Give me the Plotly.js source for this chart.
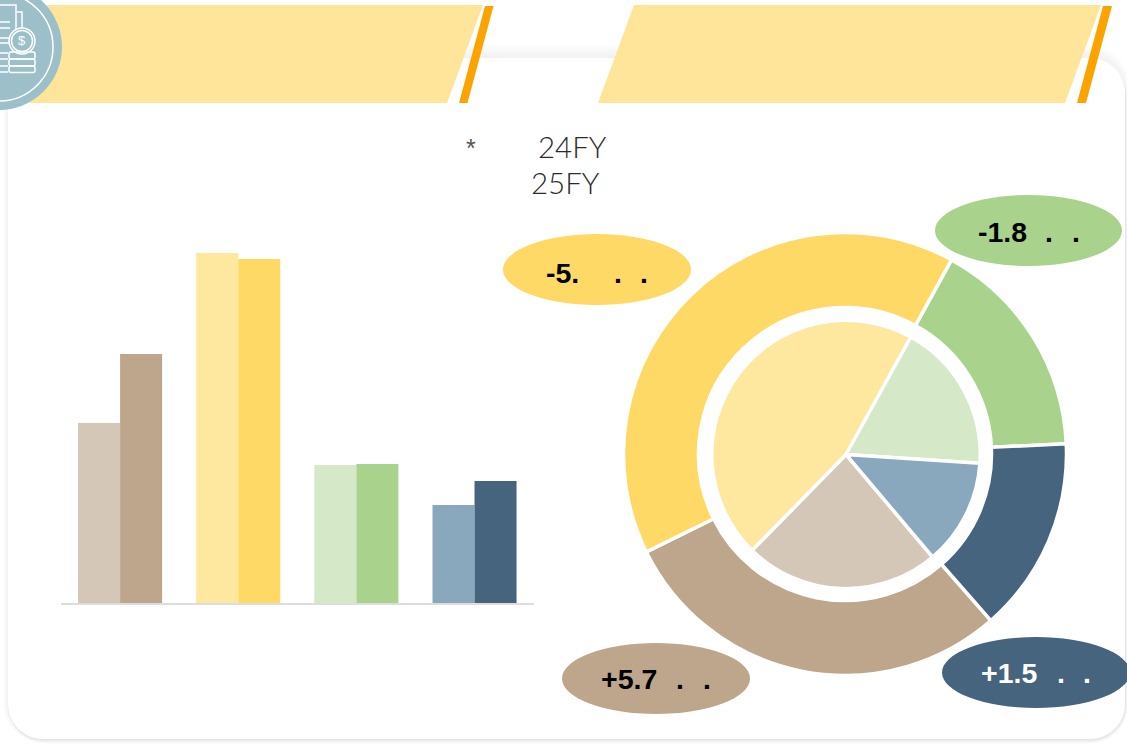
<!DOCTYPE html>
<html>
<head>
<meta charset="utf-8">
<script src="https://cdn.plot.ly/plotly-3.0.1.min.js"></script>
<style>html,body{margin:0;padding:0;background:#fff;overflow:hidden}#chart{width:1127px;height:744px}</style>
</head>
<body>
<div id="chart"></div>
<script>
// Data (arbitrary units, bar heights)
var categories = ['A', 'B', 'C', 'D'];
var fy24Values = [180, 350, 138, 98];
var fy25Values = [249, 344, 139, 122];
var fy24Colors = ['#d5c7b7', '#fee79f', '#d5e8c8', '#89a7bd'];
var fy25Colors = ['#bda68b', '#ffd966', '#a9d28d', '#46647d'];
var titleLines = ['24FY', '25FY'];
var changeLabels = ['+5.7', '-5.', '-1.8', '+1.5'];

var W = 1127, H = 744;
function X(p) { return p / W; }
function Y(p) { return 1 - p / H; }
function poly(pts) {
  return 'M' + pts.map(function (q) { return X(q[0]) + ',' + Y(q[1]); }).join(' L') + ' Z';
}
function line(pts) {
  return 'M' + pts.map(function (q) { return X(q[0]) + ',' + Y(q[1]); }).join(' L');
}
function roundRect(x0, y0, x1, y1, r) {
  var k = r * 0.45;
  function p(a, b) { return X(a) + ',' + Y(b); }
  return 'M' + p(x0 + r, y0) + ' L' + p(x1 - r, y0) +
    ' C' + p(x1 - k, y0) + ' ' + p(x1, y0 + k) + ' ' + p(x1, y0 + r) +
    ' L' + p(x1, y1 - r) +
    ' C' + p(x1, y1 - k) + ' ' + p(x1 - k, y1) + ' ' + p(x1 - r, y1) +
    ' L' + p(x0 + r, y1) +
    ' C' + p(x0 + k, y1) + ' ' + p(x0, y1 - k) + ' ' + p(x0, y1 - r) +
    ' L' + p(x0, y0 + r) +
    ' C' + p(x0, y0 + k) + ' ' + p(x0 + k, y0) + ' ' + p(x0 + r, y0) + ' Z';
}
function fillShape(path, color) {
  return { type: 'path', xref: 'paper', yref: 'paper', layer: 'below', path: path, fillcolor: color, line: { width: 0 } };
}
function strokeShape(path, w) {
  return { type: 'path', xref: 'paper', yref: 'paper', layer: 'below', path: path, fillcolor: 'rgba(0,0,0,0)', line: { color: '#fff', width: w || 1.5 } };
}
function ellipse(x0, y0, x1, y1, color, lineW) {
  return {
    type: 'circle', xref: 'paper', yref: 'paper', layer: 'below',
    x0: X(x0), x1: X(x1), y0: Y(y1), y1: Y(y0),
    fillcolor: color || 'rgba(0,0,0,0)',
    line: lineW ? { color: '#fff', width: lineW } : { width: 0 }
  };
}

var shapes = [];
// soft card shadow: a broad faint halo plus a tighter one to the lower right
for (var i = 14; i >= 1; i--) {
  shapes.push(fillShape(roundRect(8 - i * 0.4, 58 - i, 1125 + i * 0.3, 739 + i * 0.3, 35 + i * 0.3), 'rgba(0,0,0,0.003)'));
}
for (var j = 5; j >= 1; j--) {
  shapes.push(fillShape(roundRect(8, 60, 1125 + j * 0.5, 739 + j, 35 + j * 0.5), 'rgba(0,0,0,0.011)'));
}
shapes.push(fillShape(roundRect(8, 58, 1125, 739, 35), '#ffffff'));
// header banners
shapes.push(fillShape(poly([[30, 5], [483, 5], [447, 103], [30, 103]]), '#fee59a'));
shapes.push(fillShape(poly([[485, 6], [493.5, 6], [467.5, 103], [459, 103]]), '#fca300'));
shapes.push(fillShape(poly([[634, 5], [1101, 5], [1065, 103], [598, 103]]), '#fee59a'));
shapes.push(fillShape(poly([[1103, 6], [1112, 6], [1086, 103], [1077, 103]]), '#fca300'));
// icon badge
shapes.push(ellipse(-64, -16, 62, 110, '#9dbfca'));
shapes.push(ellipse(-55, -7, 53, 101, null, 1.5));
var iconLines = [
  [[-2, 5], [16, 5], [16, 29]],
  [[17, 12], [22, 12], [22, 28]],
  [[-2, 22], [10, 22]], [[-2, 28], [10, 28]],
  [[-2, 38], [9, 38]], [[-2, 43], [9, 43]],
  [[-2, 53], [8, 53]], [[-2, 59], [8, 59]], [[-2, 66], [8, 66]], [[-2, 72], [8, 72]]
];
iconLines.forEach(function (l) { shapes.push(strokeShape(line(l), 1.5)); });
shapes.push(ellipse(9, 28, 35, 54, null, 1.5));
shapes.push(ellipse(11.5, 30.5, 32.5, 51.5, null, 1.5));
shapes.push(strokeShape(roundRect(9, 52, 35, 59, 2), 1.5));
shapes.push(strokeShape(roundRect(9, 59, 35, 66, 2), 1.5));
shapes.push(strokeShape(roundRect(9, 66, 35, 72.5, 2), 1.5));
// change label ellipses
var bubbles = [
  [562, 643, 750, 714, fy25Colors[0]],
  [503, 234, 691, 305, fy25Colors[1]],
  [935, 195, 1122, 266, fy25Colors[2]],
  [942, 637, 1130, 708, fy25Colors[3]]
];
bubbles.forEach(function (b) { shapes.push(ellipse(b[0], b[1], b[2], b[3], b[4])); });

var annotations = [];
function note(text, px, py, size, color, anchor, family, weight) {
  annotations.push({
    xref: 'paper', yref: 'paper', x: X(px), y: Y(py), text: text, showarrow: false,
    xanchor: anchor, yanchor: 'middle', borderpad: 0, borderwidth: 0,
    font: { family: family, size: size, color: color, weight: weight }
  });
}
var thin = 'Lato, "Open Sans", sans-serif';
var bold = '"Liberation Sans", Arial, sans-serif';
note('*', 471, 148, 25, '#555', 'center', bold, 400);
note(titleLines[0], 538, 147, 29.5, '#2a2a2a', 'left', thin, 300);
note(titleLines[1], 531, 182, 29.5, '#2a2a2a', 'left', thin, 300);
note('$', 22, 41, 13, '#fff', 'center', bold, 400);
var labelPos = [
  [601, 679, 680, 707, '#000'],
  [546, 273, 618, 644, '#000'],
  [978, 232, 1049, 1076, '#000'],
  [981, 673, 1061, 1087, '#fff']
];
changeLabels.forEach(function (t, i) {
  var p = labelPos[i];
  note(t, p[0], p[1], 28.5, p[4], 'left', bold, 700);
  note('.', p[2], p[1], 28.5, p[4], 'center', bold, 700);
  note('.', p[3], p[1], 28.5, p[4], 'center', bold, 700);
});

function pieDomain(cx, cy, r) {
  return { x: [X(cx - r), X(cx + r)], y: [Y(cy + r), Y(cy - r)] };
}
var traces = [
  { type: 'bar', name: '24FY', x: categories, y: fy24Values, marker: { color: fy24Colors }, hoverinfo: 'x+y' },
  { type: 'bar', name: '25FY', x: categories, y: fy25Values, marker: { color: fy25Colors }, hoverinfo: 'x+y' },
  {
    type: 'pie', name: '25FY', labels: categories, values: fy25Values, sort: false, direction: 'clockwise',
    rotation: 138.8, hole: 146.5 / 221.5, domain: pieDomain(845, 454, 221.5),
    marker: { colors: fy25Colors, line: { color: '#fff', width: 3.5 } }, textinfo: 'none', showlegend: false
  },
  {
    type: 'pie', name: '24FY', labels: categories, values: fy24Values, sort: false, direction: 'clockwise',
    rotation: 139.8, domain: pieDomain(846, 454.5, 134.2),
    marker: { colors: fy24Colors, line: { color: '#fff', width: 3.5 } }, textinfo: 'none', showlegend: false
  }
];

var layout = {
  width: W, height: H, autosize: false,
  margin: { l: 0, r: 0, t: 0, b: 0, pad: 0 },
  paper_bgcolor: '#ffffff', plot_bgcolor: 'rgba(0,0,0,0)',
  showlegend: false, barmode: 'group', bargap: 0.2886, bargroupgap: 0,
  xaxis: {
    domain: [X(61), X(533.6)], type: 'category', range: [-0.5, 3.5], fixedrange: true,
    showticklabels: false, ticks: '', showgrid: false, zeroline: false,
    showline: true, linecolor: '#dddddd', linewidth: 2, anchor: 'y'
  },
  yaxis: {
    domain: [Y(603), Y(203)], range: [0, 400], fixedrange: true,
    showticklabels: false, ticks: '', showgrid: false, zeroline: false, showline: false
  },
  shapes: shapes,
  annotations: annotations
};
Plotly.newPlot('chart', traces, layout, { displayModeBar: false, responsive: false });
</script>
</body>
</html>
